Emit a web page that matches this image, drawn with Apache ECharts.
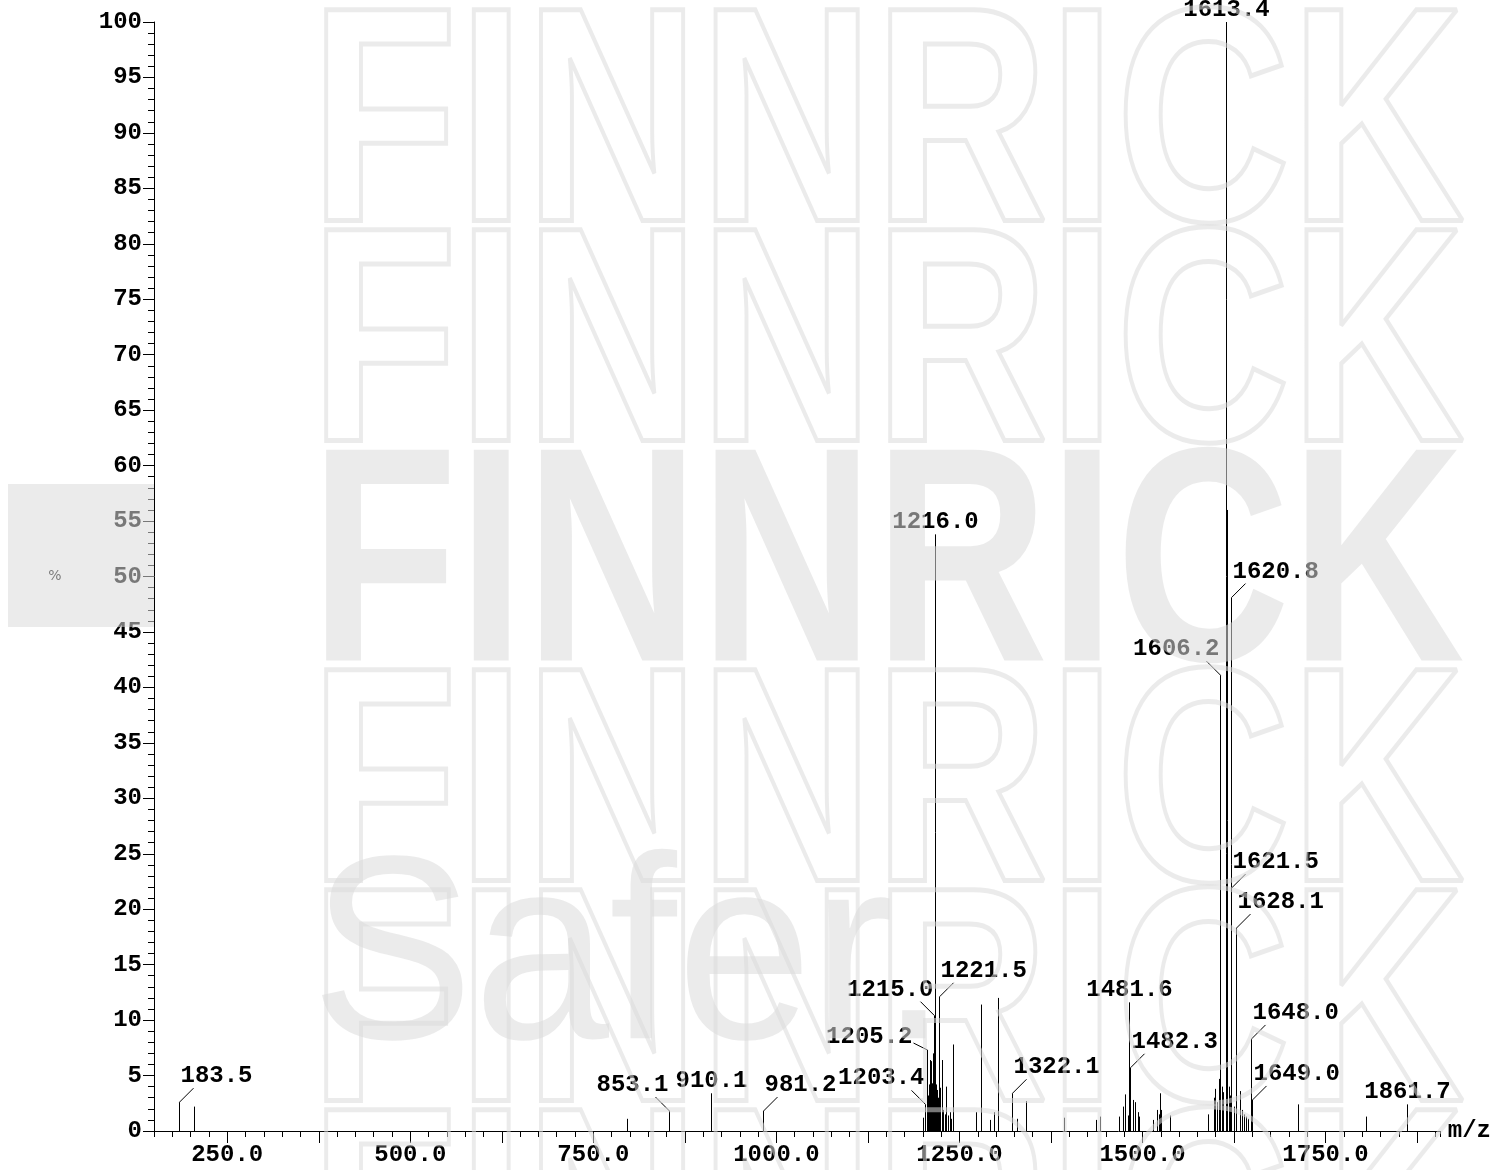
<!DOCTYPE html>
<html><head><meta charset="utf-8">
<script src="https://cdn.jsdelivr.net/npm/echarts@6/dist/echarts.min.js"></script>
<style>html,body{margin:0;padding:0;background:#fff}#c{width:1494px;height:1170px}</style>
</head><body><div id="c"></div>
<script>
// ---- data ----
const peakMz = [
  183.5, 205.3, 795.8, 853.1, 910.1, 981.2,
  1199.6, 1203.4, 1205.2, 1206.4, 1207.5, 1208.2, 1209.1, 1210.0, 1211.0, 1212.3, 1213.7, 1214.4, 1215.0, 1216.0,
  1217.8, 1218.6, 1219.6, 1220.6, 1221.5, 1222.6, 1223.3, 1224.1, 1225.5, 1226.8, 1228.0, 1229.6, 1232.3, 1235.0, 1237.0, 1238.7, 1241.5,
  1272.8, 1279.2, 1291.9, 1296.9, 1302.8, 1322.1, 1328.7, 1340.5, 1392.3, 1436.0, 1442.2,
  1467.7, 1473.6, 1475.5, 1480.0, 1481.6, 1482.3, 1487.2, 1489.2, 1493.7, 1495.4, 1514.1, 1520.0, 1521.9, 1524.1, 1525.5, 1537.3,
  1589.1, 1597.0, 1599.5, 1602.0, 1603.8, 1606.2, 1608.5, 1610.5, 1613.4, 1615.6, 1617.5, 1619.0, 1620.8, 1621.5, 1625.3, 1628.1,
  1633.6, 1635.8, 1639.1, 1641.3, 1643.6, 1648.0, 1649.0,
  1711.8, 1804.9, 1861.7
];
const peakIntensity = [
  2.6, 2.2, 1.1, 1.8, 3.4, 1.8,
  1.2, 2.4, 7.3, 2.5, 3.2, 4.2, 6.4, 4.5, 6.3, 4.3, 7.0, 3.8, 10.4, 53.8,
  3.5, 4.2, 3.7, 3.0, 12.1, 3.4, 2.6, 3.9, 2.2, 6.4, 1.9, 1.5, 4.0, 1.4, 1.7, 1.1, 7.8,
  1.7, 11.4, 1.0, 1.7, 12.0, 3.4, 1.1, 2.7, 1.2, 1.0, 1.3,
  1.3, 2.2, 3.3, 1.4, 11.6, 5.7, 2.8, 2.6, 1.7, 1.3, 1.0, 1.9, 1.5, 3.4, 1.9, 1.4,
  1.5, 3.0, 3.8, 2.6, 4.7, 41.1, 4.0, 3.5, 100.0, 56.0, 4.0, 3.2, 48.1, 21.9, 2.2, 18.3,
  3.6, 1.9, 1.5, 1.3, 1.1, 8.3, 2.8,
  2.4, 1.3, 2.4
];
const labelledMz = [183.5, 853.1, 910.1, 981.2, 1203.4, 1205.2, 1215.0, 1216.0, 1221.5, 1322.1,
  1481.6, 1482.3, 1606.2, 1613.4, 1620.8, 1621.5, 1628.1, 1648.0, 1649.0, 1861.7];
const labelSide = ['R', 'L', 'C', 'R', 'L', 'L2', 'L', 'C', 'R', 'R',
  'C', 'R', 'L', 'C', 'R', 'R', 'R', 'R', 'R', 'C'];
const xTickLabels = [250, 500, 750, 1000, 1250, 1500, 1750];
const xMajorTicks = [250, 375, 500, 625, 750, 875, 1000, 1125, 1250, 1375, 1500, 1625, 1750, 1875];
const yTickLabels = [0, 5, 10, 15, 20, 25, 30, 35, 40, 45, 50, 55, 60, 65, 70, 75, 80, 85, 90, 95, 100];

// ---- styles / layout (not data) ----
const FONT = 'bold 24px "Liberation Mono"';
// [leaderDx, leaderDy, textDx, textDy(glyph bottom rel. peak top), align]
const leaderLayout = {
  R:  [14, -14, 1, -20, 'left'],
  L:  [-14, -14, -1, -20, 'right'],
  L2: [-14, -7, -15, -7, 'right'],
  C:  [0, 0, 0, -6, 'center']
};
const OV = 'rgba(218,218,218,0.55)';

const peakData = peakMz.map((m, i) => [m, peakIntensity[i]]);
const labelData = labelledMz.map((m, i) => [m, peakIntensity[peakMz.indexOf(m)], i]);

const chart = echarts.init(document.getElementById('c'), null, {renderer: 'canvas'});
const wm = [];
wm.push({type: 'rect', z: 100, silent: true, shape: {x: 8, y: 484, width: 146, height: 143}, style: {fill: OV}});
[136, 356, 796, 1016, 1236].forEach(cy => wm.push({
  type: 'text', z: 100, silent: true, x: 310, y: cy, scaleX: 0.79,
  style: {text: 'FINNRICK', font: 'bold 306px "Liberation Sans"', fill: 'rgba(0,0,0,0)', stroke: OV, lineWidth: 5,
          align: 'left', verticalAlign: 'middle'}
}));
wm.push({type: 'text', z: 100, silent: true, x: 310, y: 576, scaleX: 0.79,
  style: {text: 'FINNRICK', font: 'bold 306px "Liberation Sans"', fill: OV, align: 'left', verticalAlign: 'middle'}});
wm.push({type: 'text', z: 100, silent: true, x: 311, y: 966, scaleX: 0.93,
  style: {text: 'Safer.', font: '262px "Liberation Sans"', fill: OV, align: 'left', verticalAlign: 'middle'}});

const option = {
  animation: false,
  backgroundColor: '#fff',
  grid: {left: 154, right: 52, top: 22, bottom: 39, containLabel: false},
  graphic: {elements: wm},
  xAxis: [
    {type: 'value', min: 150, max: 1906, interval: 25, position: 'bottom',
     axisLine: {show: true, onZero: false, lineStyle: {color: '#000', width: 1}},
     axisTick: {show: true, length: 6, lineStyle: {color: '#000'}},
     axisLabel: {show: false}, splitLine: {show: false},
     name: 'm/z', nameLocation: 'end', nameGap: 8,
     nameTextStyle: {fontFamily: 'Liberation Mono', fontWeight: 'bold', fontSize: 24, color: '#000', verticalAlign: 'middle'}},
    {type: 'value', min: 150, max: 1906, position: 'bottom',
     axisLine: {show: false},
     axisTick: {show: true, length: 12, customValues: xMajorTicks, lineStyle: {color: '#000'}},
     axisLabel: {show: true, customValues: xTickLabels, formatter: v => v.toFixed(1), margin: 12,
                 fontFamily: 'Liberation Mono', fontWeight: 'bold', fontSize: 24, color: '#000'},
     splitLine: {show: false}}
  ],
  yAxis: {type: 'value', min: 0, max: 100, interval: 5,
    axisLine: {show: true, lineStyle: {color: '#000', width: 1}},
    axisTick: {show: true, length: 11, lineStyle: {color: '#000'}},
    minorTick: {show: true, splitNumber: 5, length: 6, lineStyle: {color: '#000'}},
    axisLabel: {margin: 12, fontFamily: 'Liberation Mono', fontWeight: 'bold', fontSize: 24, color: '#000',
                formatter: v => yTickLabels.includes(v) ? String(v) : ''},
    splitLine: {show: false}, minorSplitLine: {show: false},
    name: '%', nameLocation: 'middle', nameRotate: 0, nameGap: 99,
    nameTextStyle: {fontFamily: 'DejaVu Sans', fontSize: 14, color: '#000', align: 'center'}
  },
  series: [
    {type: 'custom', xAxisIndex: 0, clip: false, data: peakData,
     renderItem: (params, api) => {
       const top = api.coord([api.value(0), api.value(1)]);
       const base = api.coord([api.value(0), 0]);
       const x = Math.round(top[0]) + 0.5;
       return {type: 'line', shape: {x1: x, y1: top[1], x2: x, y2: base[1]},
               style: {stroke: '#000', lineWidth: 1}};
     }},
    {type: 'custom', xAxisIndex: 0, clip: false, data: labelData, z: 5,
     renderItem: (params, api) => {
       const i = api.value(2);
       const m = labelledMz[i];
       const p = api.coord([api.value(0), api.value(1)]);
       const px = Math.round(p[0]) + 0.5;
       const L = leaderLayout[labelSide[i]];
       const children = [];
       if (L[0] !== 0 || L[1] !== 0) {
         children.push({type: 'line', shape: {x1: px, y1: p[1], x2: px + L[0], y2: p[1] + L[1]},
                        style: {stroke: '#000', lineWidth: 1}});
       }
       children.push({type: 'text', x: px + L[2], y: p[1] + L[3] - 6,
         style: {text: m.toFixed(1), font: FONT, fill: '#000', align: L[4], verticalAlign: 'middle'}});
       return {type: 'group', children};
     }}
  ]
};
chart.setOption(option);
</script></body></html>
